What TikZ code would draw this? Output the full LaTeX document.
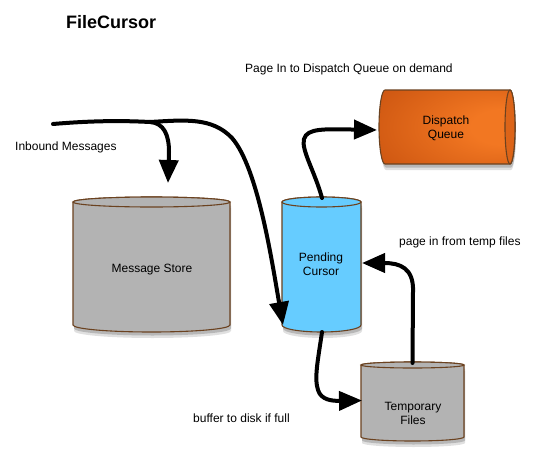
\documentclass[tikz,border=0pt]{standalone}
\usepackage{fontspec}
\setmainfont{Liberation Sans}
\usetikzlibrary{arrows.meta,calc}
\definecolor{edgebrown}{HTML}{6B4220}
\definecolor{greyfill}{HTML}{B3B3B3}
\definecolor{bluefill}{HTML}{66CCFF}
\definecolor{dqlight}{HTML}{F27722}
\definecolor{dqmid}{HTML}{CF5812}
\definecolor{dqdark}{HTML}{A5420F}
\definecolor{dqend}{HTML}{DC6418}
\pgfdeclareradialshading{dqshade}{\pgfpoint{26bp}{0bp}}{color(0bp)=(dqlight); color(12bp)=(dqlight); color(40bp)=(dqmid); color(62bp)=(dqdark)}
\newcommand\mycylv[7]{% left right top bottom rtop rbottom fill
  \pgfmathsetmacro\mycylcx{(#1+#2)/2}%
  \pgfmathsetmacro\mycylrx{(#2-#1)/2}%
  \fill[black,opacity=.18,shift={(1,3.5)}] (#1,#3) -- (#1,#4) arc[start angle=180,end angle=0,x radius=\mycylrx,y radius=#6] -- (#2,#3) -- cycle;
  \fill[black,opacity=.12,shift={(1,6)}] (#1,#3) -- (#1,#4) arc[start angle=180,end angle=0,x radius=\mycylrx,y radius=#6] -- (#2,#3) -- cycle;
  \draw[cyl,fill=#7] (#1,#3) -- (#1,#4) arc[start angle=180,end angle=0,x radius=\mycylrx,y radius=#6] -- (#2,#3) arc[start angle=0,end angle=-180,x radius=\mycylrx,y radius=#5] -- cycle;
  \draw[cyl,fill=#7] (\mycylcx,#3) ellipse[x radius=\mycylrx,y radius=#5];
}
\begin{document}
\begin{tikzpicture}[x=1pt,y=-1pt,
  cyl/.style={draw=edgebrown,line width=1.1pt},
  hit/.style={inner sep=0pt,outer sep=0pt},
  lbl/.style={inner sep=0pt,font=\fontsize{12}{13.5}\selectfont,align=center},
  flow/.style={line width=4pt,line cap=round,-{Triangle[length=23pt,width=19pt]}}]
\fill[white] (0,0) rectangle (536,466);
\useasboundingbox (0,0) rectangle (536,466);

% title and labels
\node[inner sep=0pt,anchor=base west,font=\bfseries\fontsize{18}{20}\selectfont] (title) at (66,28) {FileCursor};
\node[lbl,anchor=base west] (pagein) at (245,72) {Page In to Dispatch Queue on demand};
\node[lbl,anchor=base west] (inbound) at (15,150) {Inbound Messages};
\node[lbl,anchor=base west] (pagetemp) at (399,245) {page in from temp files};
\node[lbl,anchor=base west] (buffer) at (193,422) {buffer to disk if full};

% cylinders
\mycylv{73}{230}{202}{325}{5}{7}{greyfill}
\mycylv{282}{361}{202}{325}{5}{7}{bluefill}
\mycylv{361}{464}{365}{437}{3}{4}{greyfill}

% dispatch queue (horizontal cylinder)
\fill[black,opacity=.18,shift={(1,3.5)}] (385,90) -- (510,90) arc[start angle=-90,end angle=90,x radius=5,y radius=37] -- (385,164) arc[start angle=90,end angle=270,x radius=6,y radius=37] -- cycle;
\fill[black,opacity=.12,shift={(1,6)}] (385,90) -- (510,90) arc[start angle=-90,end angle=90,x radius=5,y radius=37] -- (385,164) arc[start angle=90,end angle=270,x radius=6,y radius=37] -- cycle;
\shade[shading=dqshade] (385,90) -- (510,90) arc[start angle=-90,end angle=90,x radius=5,y radius=37] -- (385,164) arc[start angle=90,end angle=270,x radius=6,y radius=37] -- cycle;
\draw[cyl] (385,90) -- (510,90) arc[start angle=-90,end angle=90,x radius=5,y radius=37] -- (385,164) arc[start angle=90,end angle=270,x radius=6,y radius=37] -- cycle;
\draw[cyl,fill=dqend] (510,127) ellipse[x radius=5,y radius=37];

% named node areas
\node[hit,minimum width=157pt,minimum height=135pt] (ms) at (151.5,264.5) {};
\node[hit,minimum width=79pt,minimum height=135pt] (pc) at (321.5,264.5) {};
\node[hit,minimum width=103pt,minimum height=81pt] (tf) at (412.5,400.5) {};
\node[hit,minimum width=136pt,minimum height=74pt] (dq) at (447,127) {};

% texts in shapes (base = baseline of the last line)
\node[lbl,anchor=base] (mstext) at (152,272) {Message Store};
\node[lbl,anchor=base] (pctext) at (321,275) {Pending\\Cursor};
\node[lbl,anchor=base] (dqtext) at (446,138) {Dispatch\\Queue};
\node[lbl,anchor=base] (tftext) at (413,424) {Temporary\\Files};

% connectors
\coordinate (in) at (53,124);
\coordinate (split) at (150,122);
\draw[flow] (in) .. controls (100,120) and (130,121) .. (split) .. controls (164,123) and (169,135) .. (169,152) -- ([xshift=16.5pt,yshift=14pt]ms.north);
\draw[flow] (split) .. controls (185,120) and (212,117) .. (232,138) .. controls (258,168) and (272,262) .. ([xshift=1pt,yshift=7pt]pc.south west);
\draw[flow] ([xshift=0.5pt,yshift=-1pt]pc.north) .. controls (315,172) and (301,150) .. (304,139) .. controls (307,128) and (325,129) .. ([xshift=-2pt,yshift=-3pt]dq.west);
\draw[flow] ([yshift=-3pt]tf.north) -- (413,292) .. controls (414,268) and (400,263) .. ([xshift=1pt,yshift=1.5pt]pc.east);
\draw[flow] ([xshift=0.5pt]pc.south) .. controls (318,360) and (314,378) .. (318,390) .. controls (321,400) and (332,401) .. ([xshift=1pt]tf.west);
\end{tikzpicture}
\end{document}
